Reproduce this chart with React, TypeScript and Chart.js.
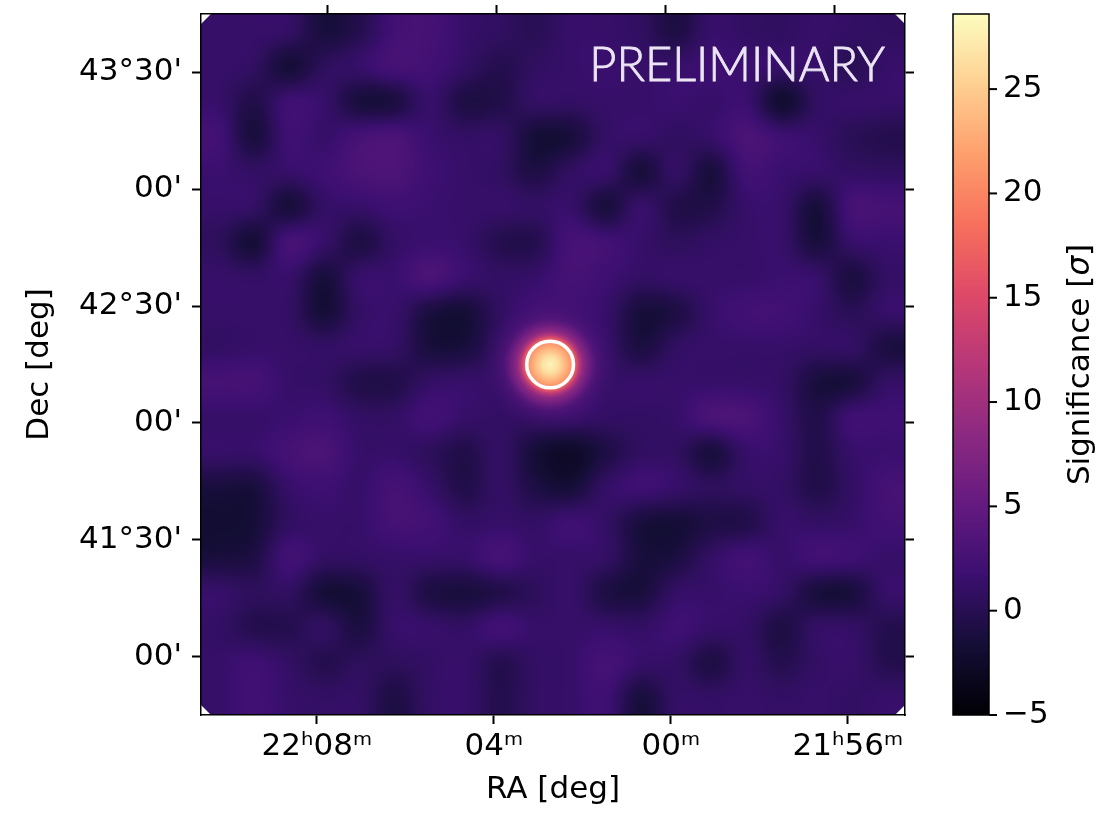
import React, { useEffect, useRef } from "react";
import { Chart, registerables } from "chart.js";

Chart.register(...registerables);

// ---------- data ----------
// RA axis: minutes of right ascension relative to 22h00m (axis reversed: RA grows to the left)
const raRange = [-5.29, 10.62];
const raTickValues = [8, 4, 0, -4];
const raTickLabels = ["22ʰ08ᵐ", "04ᵐ", "00ᵐ", "21ʰ56ᵐ"];
const raTopTickValues = [7.75, 3.94, 0.12, -3.69];

// Dec axis in degrees
const decRange = [40.75, 43.75];
const decTickValues = [41.0, 41.5, 42.0, 42.5, 43.0, 43.5];
const decTickLabels = ["00'", "41°30'", "00'", "42°30'", "00'", "43°30'"];

// colour bar (significance, sigma)
const cbRange = [-5, 28.6];
const cbTickValues = [-5, 0, 5, 10, 15, 20, 25];
const cbTickLabels = ["−5", "0", "5", "10", "15", "20", "25"];

// source
const sourceRA = 2.73;
const sourceDec = 42.25;
const sourceProfileR = [0, 2, 4, 5.5, 6.5, 7.5, 8.5, 10, 12, 15, 18]; // arcmin
const sourceProfileSig = [28, 26.5, 23.5, 21, 17, 12, 8.5, 6, 4.2, 3.0, 2.2];
const circleRadiusDeg = 0.1;

// background significance map, row 0 = north (top), col 0 = east (left)
const sigGrid = [
  [1.3, 1.3, 1.0, -1.2, -0.2, 2.2, 2.5, 1.3, 0.8, 0.2, 1.3, 1.3, 0.8, -0.8, 1.3, 1.0, 0.8, 1.3, 1.0, 0.8],
  [1.3, 0.8, -1.5, 0.5, 1.3, 2.5, 2.2, 1.0, -0.2, 0.8, 1.3, 1.6, 1.3, 1.3, 1.9, 1.6, 1.3, 1.3, 0.2, 1.3],
  [1.3, -0.5, 1.9, 1.3, -1.2, -1.0, 1.3, -0.8, -0.5, 1.0, 1.0, 1.3, 1.3, 1.6, 1.3, 1.6, -2.0, 0.8, 1.3, 1.3],
  [2.2, -1.2, 1.9, 1.3, 2.5, 2.9, 1.6, 1.0, 1.0, -1.5, -1.3, 1.0, 1.3, 0.8, 1.3, 2.9, 1.9, 1.3, 0.2, -0.2],
  [1.6, 1.0, 1.3, 1.9, 2.9, 3.1, 1.9, 1.3, 0.8, -0.8, 0.8, 1.3, -1.3, 1.0, -1.2, 2.2, 1.6, 1.3, 1.0, 0.8],
  [1.3, 1.0, -1.3, 1.0, 1.3, 1.9, 1.6, 1.3, 1.3, 1.0, 1.3, -1.2, 1.3, -0.5, -0.5, 1.3, 1.3, -1.3, 2.5, 2.5],
  [0.5, -1.5, 2.5, 1.3, -0.8, 1.0, 1.6, 1.3, -0.2, -0.2, 2.5, 2.2, 1.3, 0.5, 1.0, 1.3, 1.3, -1.2, 1.3, 1.6],
  [1.3, 1.0, 1.3, -1.2, 1.3, 1.6, 2.9, 1.6, 1.0, 1.3, 2.5, 1.9, 1.0, 1.3, 1.3, 1.3, 1.6, 1.3, -1.0, 1.0],
  [1.3, 1.3, 1.0, -1.5, 1.0, 1.3, -1.0, -1.5, 0.8, 2.2, 2.2, 1.3, -1.3, -0.8, 1.3, 2.2, 2.2, 1.3, 0.2, 1.3],
  [1.0, 1.3, 1.3, 1.0, 1.3, 1.0, -1.2, -1.2, 1.0, 2.2, 2.2, 1.3, -1.0, 0.8, 1.3, 1.3, 1.3, 1.0, 1.0, -1.0],
  [2.5, 2.5, 1.3, 1.0, -0.5, -0.5, 1.0, 1.3, 1.3, 2.2, 2.2, 1.3, 1.3, 1.3, 1.3, 1.3, 1.0, -1.2, -1.2, 1.0],
  [1.3, 1.3, 1.6, 1.9, 1.0, 1.0, 2.2, 1.3, 1.0, 1.0, 1.3, 1.0, 1.0, 1.3, 2.9, 2.9, 1.3, -0.5, 1.9, 1.9],
  [1.3, 1.3, 2.5, 2.9, 1.3, 1.3, 0.5, -0.5, 1.0, -1.5, -2.5, -0.8, 0.8, 0.8, -1.2, 1.3, 1.3, -0.5, 1.3, 1.6],
  [-1.2, -1.2, 1.3, 1.9, 1.3, 2.5, 1.3, -0.5, 1.0, -0.8, -1.5, 1.0, 1.9, 1.3, 0.5, 1.0, 1.0, -0.5, 1.0, 2.5],
  [-1.8, -1.5, 0.8, 1.3, 1.3, 2.5, 2.2, 1.0, 1.3, 1.0, 1.9, 1.0, -1.2, -1.5, -0.8, -0.5, 1.3, 1.0, 1.3, 2.2],
  [-1.2, -0.8, 2.2, 1.0, 1.0, 1.3, 1.3, 1.3, 2.5, 1.3, 1.3, 1.0, -1.2, -1.0, 1.0, 2.2, 1.3, 2.2, 1.9, 1.3],
  [1.3, 0.5, 0.8, -1.5, -1.3, 1.0, -0.8, -1.2, -0.5, 0.5, 1.3, -0.8, -1.2, 1.0, 1.3, 1.6, 1.0, -1.2, -1.2, 1.3],
  [1.0, -0.2, -0.2, 0.8, -1.0, 1.3, 1.3, 1.0, 2.2, 1.3, 1.3, 1.3, 1.0, 1.9, 1.3, 1.0, -0.8, 1.0, 1.0, -0.2],
  [1.3, 1.9, 1.0, -0.2, 0.5, 0.5, 1.0, 1.3, -0.2, 1.0, 1.3, 2.5, 1.3, 1.0, -0.8, 1.0, -0.2, 1.0, 1.3, -0.2],
  [1.3, 2.2, 1.3, 1.0, 1.0, -0.8, 1.0, 1.3, -0.2, 1.0, 1.3, 1.9, -1.2, 1.0, 1.0, 1.3, 1.0, 1.3, 1.0, 1.3],
];

// ---------- colour map (magma) ----------
const MAGMA_HEX = ["#000004", "#140e36", "#3b0f70", "#641a80", "#8c2981", "#b73779", "#de4968", "#f7705c", "#fe9f6d", "#fecf92", "#fcfdbf"];
const MAGMA = MAGMA_HEX.map((h) => [parseInt(h.slice(1, 3), 16), parseInt(h.slice(3, 5), 16), parseInt(h.slice(5, 7), 16)]);

function magmaFrac(f: number): number[] {
  const t = Math.max(0, Math.min(1, f)) * (MAGMA.length - 1);
  const i = Math.min(MAGMA.length - 2, Math.floor(t));
  const u = t - i;
  const a = MAGMA[i], b = MAGMA[i + 1];
  return [0, 1, 2].map((k) => Math.round(a[k] + (b[k] - a[k]) * u));
}
function magmaSig(v: number): number[] {
  return magmaFrac((v - cbRange[0]) / (cbRange[1] - cbRange[0]));
}

// Catmull-Rom weights for smooth image resampling of the grid
function crWeights(t: number): number[] {
  const t2 = t * t, t3 = t2 * t;
  return [
    -0.5 * t3 + t2 - 0.5 * t,
    1.5 * t3 - 2.5 * t2 + 1,
    -1.5 * t3 + 2 * t2 + 0.5 * t,
    0.5 * t3 - 0.5 * t2,
  ];
}

const FONT = "'DejaVu Sans', sans-serif";

const mapPlugin = {
  id: "sigmap",
  beforeDraw(chart: any) {
    const { ctx, scales } = chart;
    const xs = scales.x, ys = scales.y;
    const xL = xs.getPixelForValue(raRange[1]);
    const xR = xs.getPixelForValue(raRange[0]);
    const yT = ys.getPixelForValue(decRange[1]);
    const yB = ys.getPixelForValue(decRange[0]);
    const nr = sigGrid.length, nc = sigGrid[0].length;
    const W = Math.round(xR - xL), H = Math.round(yB - yT);

    const off = document.createElement("canvas");
    off.width = W;
    off.height = H;
    const octx = off.getContext("2d")!;
    const img = octx.createImageData(W, H);
    const cl = (v: number, n: number) => (v < 0 ? 0 : v >= n ? n - 1 : v);
    for (let py = 0; py < H; py++) {
      const gy = ((py + 0.5) / H) * nr - 0.5;
      const iy = Math.floor(gy);
      const wy = crWeights(gy - iy);
      for (let px = 0; px < W; px++) {
        const gx = ((px + 0.5) / W) * nc - 0.5;
        const ix = Math.floor(gx);
        const wx = crWeights(gx - ix);
        let v = 0;
        for (let j = 0; j < 4; j++) {
          const row = sigGrid[cl(iy - 1 + j, nr)];
          let s = 0;
          for (let i = 0; i < 4; i++) s += wx[i] * row[cl(ix - 1 + i, nc)];
          v += wy[j] * s;
        }
        const col = magmaSig(v);
        const p = (py * W + px) * 4;
        img.data[p] = col[0];
        img.data[p + 1] = col[1];
        img.data[p + 2] = col[2];
        img.data[p + 3] = 255;
      }
    }
    octx.putImageData(img, 0, 0);

    ctx.save();
    ctx.beginPath();
    ctx.rect(xL, yT, xR - xL, yB - yT);
    ctx.clip();
    ctx.drawImage(off, xL, yT, xR - xL, yB - yT);

    // source
    const cx = xs.getPixelForValue(sourceRA);
    const cy = ys.getPixelForValue(sourceDec);
    const pxPerArcmin = Math.abs(ys.getPixelForValue(sourceDec + 1 / 60) - cy);
    const lastR = sourceProfileR[sourceProfileR.length - 1];
    const rMax = lastR * pxPerArcmin;
    const g = ctx.createRadialGradient(cx, cy, 0, cx, cy, rMax);
    sourceProfileR.forEach((r, i) => {
      const v = sourceProfileSig[i];
      const a = Math.max(0, Math.min(1, (v - 2.2) / 3.5));
      const col = magmaSig(v);
      g.addColorStop(r / lastR, `rgba(${col[0]},${col[1]},${col[2]},${a})`);
    });
    ctx.fillStyle = g;
    ctx.beginPath();
    ctx.arc(cx, cy, rMax, 0, Math.PI * 2);
    ctx.fill();

    // circle
    ctx.strokeStyle = "#ffffff";
    ctx.lineWidth = 3.5;
    ctx.beginPath();
    ctx.arc(cx, cy, circleRadiusDeg * 60 * pxPerArcmin, 0, Math.PI * 2);
    ctx.stroke();

    // blank projection corners
    const s = 10;
    ctx.fillStyle = "#ffffff";
    const tri = (pts: number[][]) => {
      ctx.beginPath();
      ctx.moveTo(pts[0][0], pts[0][1]);
      ctx.lineTo(pts[1][0], pts[1][1]);
      ctx.lineTo(pts[2][0], pts[2][1]);
      ctx.closePath();
      ctx.fill();
    };
    tri([[xL, yT], [xL + s, yT], [xL, yT + s]]);
    tri([[xR, yT], [xR - s, yT], [xR, yT + s]]);
    tri([[xL, yB], [xL + s, yB], [xL, yB - s]]);
    tri([[xR, yB], [xR - s, yB], [xR, yB - s]]);

    // PRELIMINARY
    ctx.fillStyle = "#ece5f4";
    ctx.strokeStyle = "#ece5f4";
    ctx.lineWidth = 0.8;
    ctx.font = "300 47px Lato, 'Open Sans', sans-serif";
    ctx.textAlign = "right";
    ctx.textBaseline = "alphabetic";
    ctx.fillText("PRELIMINARY", xR - 20, yT + 67);
    ctx.strokeText("PRELIMINARY", xR - 20, yT + 67);
    ctx.restore();

    // colour bar
    const cb = scales.cb;
    const bx = cb.left;
    const bw = 36;
    const bTop = cb.getPixelForValue(cbRange[1]);
    const bBot = cb.getPixelForValue(cbRange[0]);
    const lg = ctx.createLinearGradient(0, bBot, 0, bTop);
    MAGMA.forEach((c, i) => lg.addColorStop(i / (MAGMA.length - 1), `rgb(${c[0]},${c[1]},${c[2]})`));
    ctx.save();
    ctx.fillStyle = lg;
    ctx.fillRect(bx, bTop, bw, bBot - bTop);
    ctx.strokeStyle = "#000";
    ctx.lineWidth = 1.5;
    ctx.strokeRect(bx, bTop, bw, bBot - bTop);
    ctx.lineWidth = 2;
    cbTickValues.forEach((v) => {
      const y = cb.getPixelForValue(v);
      ctx.beginPath();
      ctx.moveTo(bx + bw, y);
      ctx.lineTo(bx + bw + 8, y);
      ctx.stroke();
    });
    // colour bar title
    ctx.translate(cb.left + 128, (bTop + bBot) / 2);
    ctx.rotate(-Math.PI / 2);
    ctx.fillStyle = "#000";
    ctx.textBaseline = "middle";
    ctx.textAlign = "left";
    const parts: [string, string][] = [
      ["Significance [", `31px ${FONT}`],
      ["σ", `italic 31px ${FONT}`],
      ["]", `31px ${FONT}`],
    ];
    let total = 0;
    parts.forEach(([t, f]) => {
      ctx.font = f;
      total += ctx.measureText(t).width;
    });
    let x = -total / 2;
    parts.forEach(([t, f]) => {
      ctx.font = f;
      ctx.fillText(t, x, 0);
      x += ctx.measureText(t).width;
    });
    ctx.restore();
  },
};

const tickFont = { family: FONT, size: 31 };
const gridOpts = { drawOnChartArea: false, drawTicks: true, tickLength: 9, tickWidth: 2, tickColor: "#000" };
const borderOpts = { display: true, color: "#000", width: 1.5 };
const noPad = (s: any) => {
  s.paddingTop = 0;
  s.paddingBottom = 0;
  s.paddingLeft = 0;
  s.paddingRight = 0;
};

export default function App() {
  const ref = useRef<HTMLCanvasElement | null>(null);
  useEffect(() => {
    if (!ref.current) return;
    const chart = new Chart(ref.current, {
      type: "scatter",
      data: {
        datasets: [
          {
            label: "source",
            data: [{ x: sourceRA, y: sourceDec }],
            pointRadius: 0,
            xAxisID: "x",
            yAxisID: "y",
          },
        ],
      },
      options: {
        animation: false,
        responsive: false,
        devicePixelRatio: 1,
        layout: { padding: 0 },
        plugins: { legend: { display: false }, tooltip: { enabled: false } },
        scales: {
          x: {
            type: "linear",
            position: "bottom",
            reverse: true,
            min: raRange[0],
            max: raRange[1],
            afterBuildTicks: (s: any) => {
              s.ticks = raTickValues.map((v) => ({ value: v }));
            },
            afterFit: (s: any) => {
              s.height = 99;
              noPad(s);
            },
            ticks: {
              autoSkip: false,
              maxRotation: 0,
              padding: 4,
              color: "#000",
              font: tickFont,
              callback: (_v: any, i: number) => raTickLabels[i],
            },
            grid: gridOpts,
            border: borderOpts,
            title: { display: true, text: "RA [deg]", color: "#000", font: tickFont, padding: { top: 5, bottom: 5 } },
          },
          x2: {
            type: "linear",
            position: "top",
            reverse: true,
            min: raRange[0],
            max: raRange[1],
            afterBuildTicks: (s: any) => {
              s.ticks = raTopTickValues.map((v) => ({ value: v }));
            },
            afterFit: (s: any) => {
              s.height = 14;
              noPad(s);
            },
            ticks: { autoSkip: false, callback: () => "", font: { size: 2 }, padding: 0 },
            grid: gridOpts,
            border: borderOpts,
          },
          y: {
            type: "linear",
            position: "left",
            min: decRange[0],
            max: decRange[1],
            afterBuildTicks: (s: any) => {
              s.ticks = decTickValues.map((v) => ({ value: v }));
            },
            afterFit: (s: any) => {
              s.width = 201;
              noPad(s);
            },
            ticks: {
              autoSkip: false,
              padding: 10,
              color: "#000",
              font: tickFont,
              callback: (_v: any, i: number) => decTickLabels[i],
            },
            grid: gridOpts,
            border: borderOpts,
            title: { display: true, text: "Dec [deg]", color: "#000", font: tickFont, padding: { top: 21, bottom: 21 } },
          },
          y2: {
            type: "linear",
            position: "right",
            weight: 0,
            min: decRange[0],
            max: decRange[1],
            afterBuildTicks: (s: any) => {
              s.ticks = decTickValues.map((v) => ({ value: v }));
            },
            afterFit: (s: any) => {
              s.width = 48;
              noPad(s);
            },
            ticks: { autoSkip: false, callback: () => "", font: { size: 2 }, padding: 0 },
            grid: gridOpts,
            border: borderOpts,
          },
          cb: {
            type: "linear",
            position: "right",
            weight: 1,
            min: cbRange[0],
            max: cbRange[1],
            afterBuildTicks: (s: any) => {
              s.ticks = cbTickValues.map((v) => ({ value: v }));
            },
            afterFit: (s: any) => {
              s.width = 153;
              noPad(s);
            },
            ticks: {
              autoSkip: false,
              padding: 50,
              color: "#000",
              font: tickFont,
              callback: (_v: any, i: number) => cbTickLabels[i],
            },
            grid: { display: false, drawTicks: false },
            border: { display: false },
          },
        },
      } as any,
      plugins: [mapPlugin],
    });
    return () => chart.destroy();
  }, []);
  return (
    <div style={{ position: "fixed", left: 0, top: 0, width: 1106, height: 814, background: "#fff" }}>
      <canvas ref={ref} width={1106} height={814} style={{ display: "block" }} />
    </div>
  );
}
